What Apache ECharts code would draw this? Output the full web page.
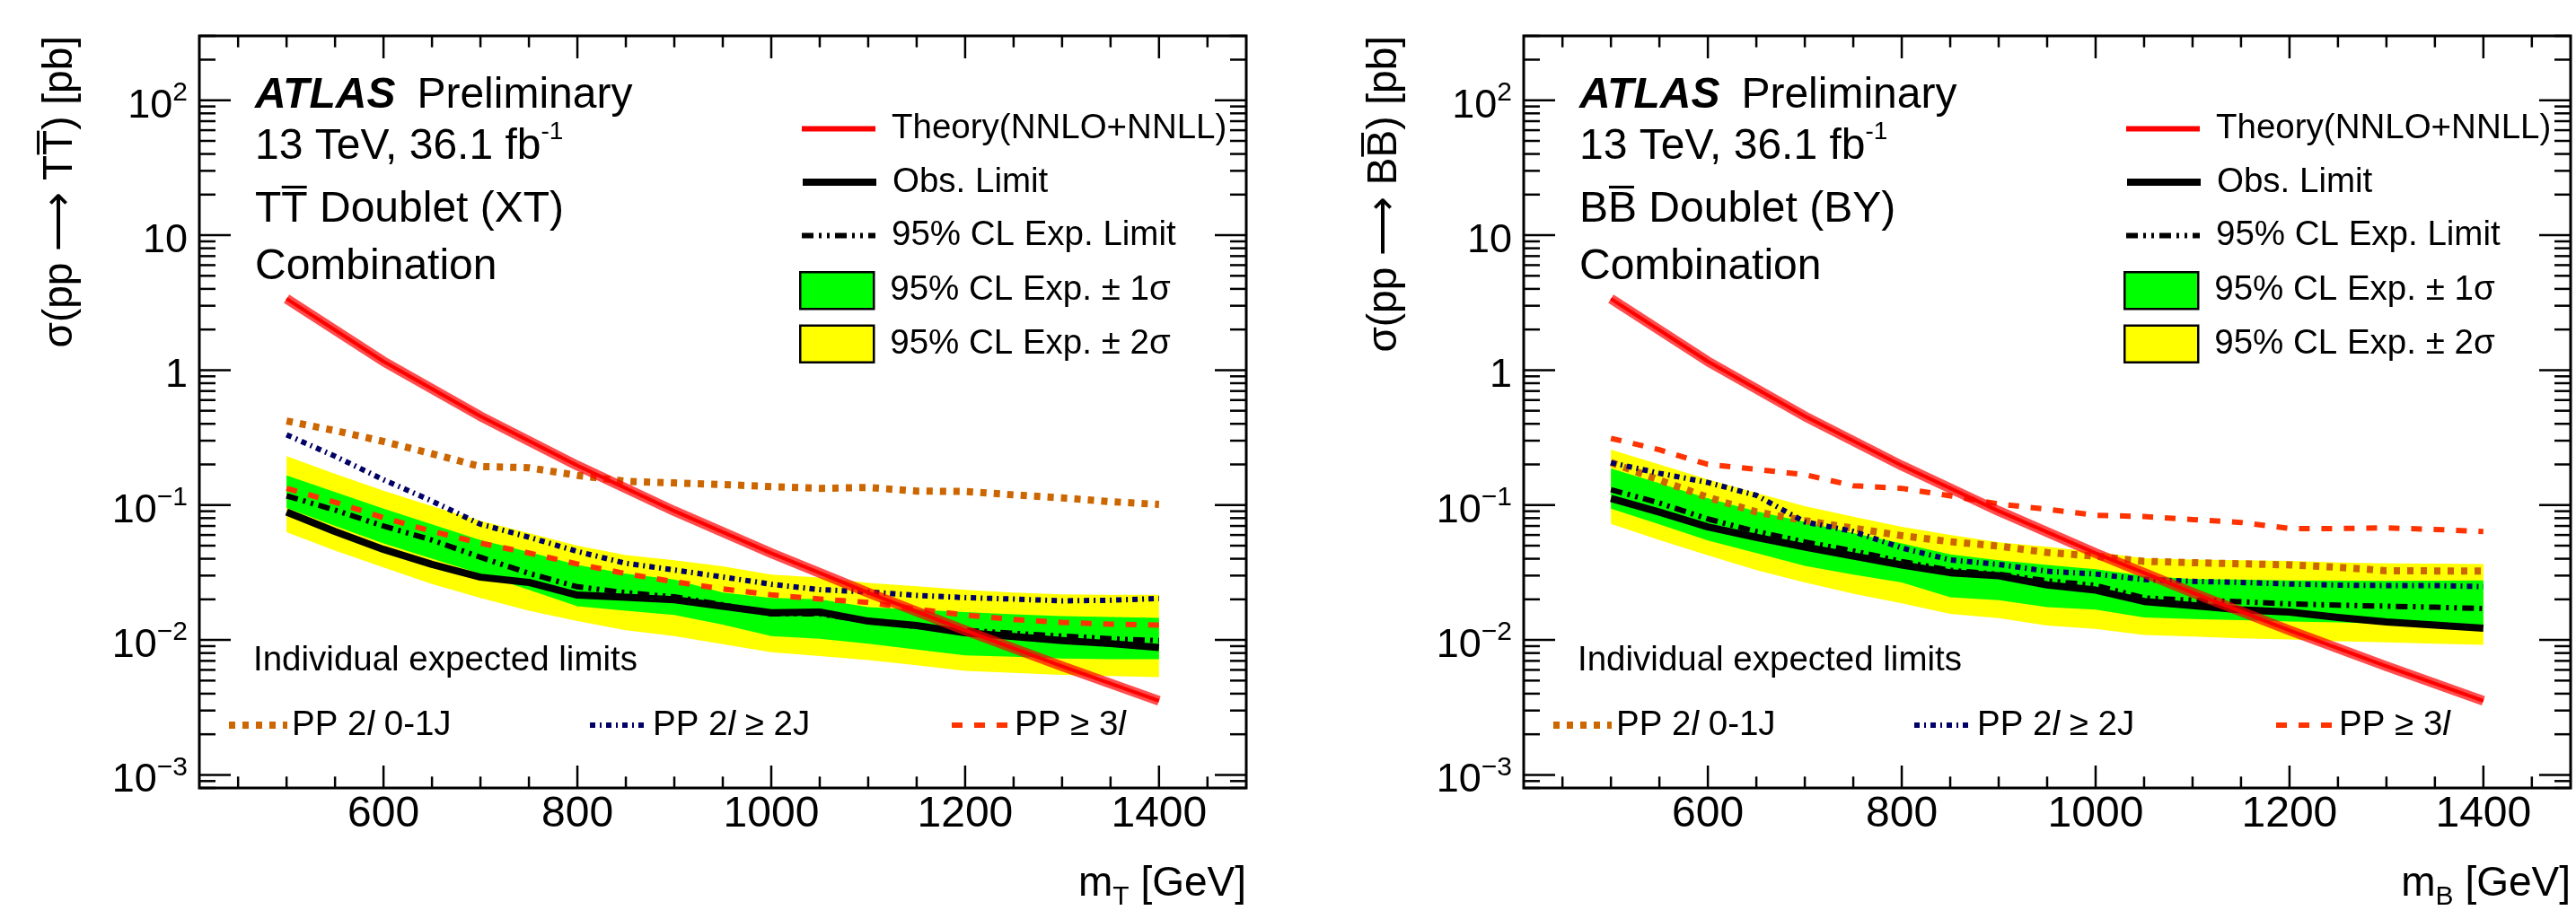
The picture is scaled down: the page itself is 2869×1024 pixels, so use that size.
<!DOCTYPE html>
<html>
<head>
<meta charset="utf-8">
<script src="https://cdn.jsdelivr.net/npm/echarts@6.0.0/dist/echarts.min.js"></script>
<style>
html,body{margin:0;padding:0;background:#ffffff;}
#chart{width:2869px;height:1024px;}
</style>
</head>
<body>
<div id="chart"></div>
<script>
// ---------------- data ----------------
const massPoints = [500,550,600,650,700,750,800,850,900,950,1000,1050,1100,1150,1200,1250,1300,1350,1400];
const theoryMass = [500,600,700,800,900,1000,1100,1200,1300,1400];
const theoryXsec = [3.38,1.16,0.455,0.196,0.0903,0.0440,0.0224,0.0118,0.00639,0.00354];

// T doublet (XT)
const tObs     = [0.0889,0.0637,0.0469,0.0363,0.0292,0.0267,0.0215,0.0207,0.0199,0.0178,0.0159,0.0161,0.0138,0.0128,0.0113,0.0106,0.0099,0.0094,0.0088];
const tExp     = [0.117,0.0917,0.0699,0.055,0.041,0.0312,0.0248,0.0224,0.0209,0.0182,0.0156,0.0156,0.0138,0.0126,0.0118,0.0112,0.0107,0.0102,0.0099];
const tPlus1   = [0.166,0.125,0.094,0.072,0.055,0.045,0.036,0.031,0.028,0.0225,0.0205,0.02,0.0175,0.0168,0.0161,0.0155,0.015,0.0148,0.0146];
const tMinus1  = [0.095,0.07,0.052,0.04,0.031,0.0235,0.0178,0.0165,0.0153,0.013,0.0107,0.0102,0.0094,0.0085,0.0077,0.0075,0.0073,0.0072,0.0072];
const tPlus2   = [0.23,0.17,0.128,0.098,0.0766,0.062,0.05,0.0426,0.039,0.0352,0.0305,0.029,0.0265,0.025,0.0235,0.0225,0.0218,0.0216,0.0216];
const tMinus2  = [0.063,0.046,0.0345,0.026,0.0205,0.0165,0.0138,0.0118,0.0107,0.0093,0.0081,0.0076,0.0071,0.0065,0.0059,0.0057,0.0055,0.0054,0.0053];
const tPP2l01J = [0.42,0.356,0.296,0.24,0.193,0.189,0.166,0.15,0.146,0.142,0.137,0.133,0.135,0.127,0.126,0.119,0.113,0.106,0.101];
const tPP2l2J  = [0.332,0.23,0.154,0.107,0.0721,0.0578,0.0453,0.037,0.033,0.0293,0.0259,0.0236,0.0227,0.0214,0.0206,0.0201,0.0195,0.0197,0.0203];
const tPP3l    = [0.133,0.105,0.0806,0.064,0.0522,0.0441,0.0366,0.031,0.027,0.0239,0.0216,0.0201,0.019,0.0169,0.0153,0.0142,0.0135,0.0131,0.0129];

// B doublet (BY)
const bObs     = [0.112,0.0887,0.0688,0.0576,0.0489,0.0419,0.036,0.0315,0.0299,0.0256,0.0234,0.0193,0.018,0.0167,0.0161,0.0147,0.0136,0.0129,0.0122];
const bExp     = [0.130,0.1035,0.0789,0.0637,0.0533,0.0457,0.0382,0.0328,0.0307,0.0274,0.0254,0.0205,0.0197,0.0192,0.0185,0.0181,0.0178,0.0175,0.0171];
const bPlus1   = [0.187,0.145,0.112,0.09,0.075,0.062,0.052,0.043,0.039,0.036,0.0335,0.0298,0.0283,0.028,0.0276,0.0275,0.0274,0.0275,0.0276];
const bMinus1  = [0.094,0.072,0.0547,0.044,0.0354,0.0305,0.0267,0.0207,0.0197,0.0175,0.0168,0.0147,0.0143,0.014,0.0137,0.0135,0.0132,0.013,0.0129];
const bPlus2   = [0.257,0.2,0.155,0.123,0.098,0.082,0.069,0.06,0.053,0.049,0.0448,0.0404,0.0395,0.039,0.0385,0.0375,0.037,0.0368,0.0366];
const bMinus2  = [0.0725,0.055,0.0424,0.033,0.0267,0.022,0.0187,0.0156,0.0145,0.0128,0.0121,0.0109,0.0106,0.0103,0.0101,0.0098,0.0096,0.0094,0.0092];
const bPP2l01J = [0.207,0.153,0.114,0.089,0.0766,0.0674,0.0593,0.0535,0.0496,0.0445,0.0418,0.0383,0.0374,0.0367,0.036,0.0346,0.0326,0.0325,0.0325];
const bPP2l2J  = [0.206,0.172,0.147,0.118,0.075,0.0637,0.0481,0.0392,0.0363,0.0323,0.0308,0.028,0.0272,0.0267,0.026,0.0255,0.0253,0.0253,0.0249];
const bPP3l    = [0.312,0.257,0.2,0.184,0.168,0.139,0.133,0.117,0.102,0.093,0.084,0.0822,0.0781,0.0743,0.067,0.067,0.0677,0.066,0.0637];

// ticks / labels
const xTickLabels = [600,800,1000,1200,1400];
const xMinorStep = 50;
const yTickValues = [1e-3,1e-2,1e-1,1,10,100];
const yTickLabels = ['{b|10}{s|\u22123}','{b|10}{s|\u22122}','{b|10}{s|\u22121}','{b|1}','{b|10}','{b|10}{s|2}'];

// names
const NAME_TH = 'Theory(NNLO+NNLL)';
const NAME_OBS = 'Obs. Limit';
const NAME_EXP = '95% CL Exp. Limit';
const NAME_1S = '95% CL Exp. \u00b1 1\u03c3';
const NAME_2S = '95% CL Exp. \u00b1 2\u03c3';
const NAME_A = 'PP 2l 0-1J';
const NAME_B = 'PP 2l \u2265 2J';
const NAME_C = 'PP \u2265 3l';
const richNames = {};
richNames[NAME_A] = 'PP 2{i|l} 0-1J';
richNames[NAME_B] = 'PP 2{i|l} \u2265 2J';
richNames[NAME_C] = 'PP \u2265 3{i|l}';

// ---------------- style ----------------
const FONT = '"Liberation Sans", Arial, Helvetica, sans-serif';
const GRID_LEFTS = [222, 1697];
const GRID_TOP = 40, GRID_W = 1166, GRID_H = 838;
const X_MIN = 410, X_MAX = 1490, Y_MIN = 8e-4, Y_MAX = 300;
const LEG_FS = 38.5;

const COL = {
  theory: '#ff0000', obs: '#000000', exp: '#000000',
  green: '#00ff00', yellow: '#ffff00',
  orange: '#cc6600', navy: '#000066', red3l: '#ff3300'
};
const DASH = {
  exp: [13, 6, 3, 6, 3, 6],
  orange: [7, 8],
  navy: [6, 5, 2, 5],
  red3l: [12, 13]
};

const panels = [
  {obs:tObs, exp:tExp, p1:tPlus1, m1:tMinus1, p2:tPlus2, m2:tMinus2, a:tPP2l01J, b:tPP2l2J, c:tPP3l,
   q:'T', doublet:'TT\u0305 Doublet (XT)', ytitle:'\u03c3(pp \u27F6 TT\u0305) [pb]'},
  {obs:bObs, exp:bExp, p1:bPlus1, m1:bMinus1, p2:bPlus2, m2:bMinus2, a:bPP2l01J, b:bPP2l2J, c:bPP3l,
   q:'B', doublet:'BB\u0305 Doublet (BY)', ytitle:'\u03c3(pp \u27F6 BB\u0305) [pb]'}
];

function pairs(xs, ys) { return xs.map((x, k) => [x, ys[k]]); }

function lineSeries(name, gi, xs, ys, color, width, type, z) {
  return {
    type: 'line', name: name, xAxisIndex: gi, yAxisIndex: gi,
    data: pairs(xs, ys), symbol: 'none', showSymbol: false, z: z,
    lineStyle: {color: color, width: width, type: type, cap: 'butt', join: 'round'},
    itemStyle: {color: color}, silent: true, animation: false
  };
}

function bandSeries(name, gi, upper, lower, color, z) {
  return {
    type: 'custom', name: name, xAxisIndex: gi, yAxisIndex: gi, z: z,
    data: [[massPoints[0], lower[0]]], itemStyle: {color: color}, silent: true, animation: false,
    renderItem: function (params, api) {
      const pts = [];
      for (let k = 0; k < massPoints.length; k++) pts.push(api.coord([massPoints[k], upper[k]]));
      for (let k = massPoints.length - 1; k >= 0; k--) pts.push(api.coord([massPoints[k], lower[k]]));
      return {type: 'polygon', shape: {points: pts}, style: {fill: color, stroke: null}};
    }
  };
}

function tickSeries(gi) {
  return {
    type: 'custom', xAxisIndex: gi, yAxisIndex: gi, z: 20, silent: true, animation: false, clip: false,
    data: [[1000, 1]],
    renderItem: function (params, api) {
      const cs = params.coordSys;
      const L = cs.x, R = cs.x + cs.width, T = cs.y, B = cs.y + cs.height;
      const ch = [];
      const ln = (x1, y1, x2, y2) => ch.push({type: 'line', shape: {x1: x1, y1: y1, x2: x2, y2: y2}, style: {stroke: '#000', lineWidth: 2.5}});
      for (let v = X_MIN; v <= X_MAX; v += 10) {
        if (v % xMinorStep !== 0) continue;
        const x = api.coord([v, 1])[0];
        const len = xTickLabels.indexOf(v) >= 0 ? 25 : 12.7;
        ln(x, B, x, B - len); ln(x, T, x, T + len);
      }
      for (let e = -4; e <= 2; e++) {
        for (let j = 1; j <= 9; j++) {
          const v = j * Math.pow(10, e);
          if (v < Y_MIN || v > Y_MAX) continue;
          const y = api.coord([1000, v])[1];
          const len = j === 1 ? 35 : 18;
          ln(L, y, L + len, y); ln(R, y, R - len, y);
        }
      }
      return {type: 'group', children: ch};
    }
  };
}

const grids = [], xAxes = [], yAxes = [], series = [], legends = [], graphics = [];

panels.forEach((p, gi) => {
  const off = GRID_LEFTS[gi];
  grids.push({left: off, top: GRID_TOP, width: GRID_W, height: GRID_H, show: true,
    borderColor: '#000', borderWidth: 3, backgroundColor: 'rgba(0,0,0,0)', containLabel: false, outerBoundsMode: 'none'});
  xAxes.push({type: 'value', gridIndex: gi, min: X_MIN, max: X_MAX,
    axisLine: {show: false}, axisTick: {show: false}, splitLine: {show: false}, minorTick: {show: false},
    axisLabel: {customValues: xTickLabels, formatter: v => String(v), fontSize: 48, lineHeight: 48,
      fontFamily: FONT, color: '#000', margin: 6}});
  yAxes.push({type: 'log', logBase: 10, gridIndex: gi, min: Y_MIN, max: Y_MAX,
    axisLine: {show: false}, axisTick: {show: false}, splitLine: {show: false}, minorTick: {show: false},
    axisLabel: {margin: 13, color: '#000', fontFamily: FONT, showMinLabel: true, showMaxLabel: true,
      formatter: function (v) {
        const lv = Math.log10(v);
        const k = yTickValues.findIndex(t => Math.abs(Math.log10(t) - lv) < 1e-6);
        return k < 0 ? '' : yTickLabels[k];
      },
      rich: {
        b: {fontSize: 45, lineHeight: 46, padding: [13, 0, 0, 0], fontFamily: FONT, color: '#000'},
        s: {fontSize: 30, lineHeight: 40, verticalAlign: 'top', fontFamily: FONT, color: '#000'}
      }}});

  series.push(bandSeries(NAME_2S, gi, p.p2, p.m2, COL.yellow, 1));
  series.push(bandSeries(NAME_1S, gi, p.p1, p.m1, COL.green, 2));
  series.push(lineSeries(NAME_A, gi, massPoints, p.a, COL.orange, 8, DASH.orange, 3));
  series.push(lineSeries(NAME_B, gi, massPoints, p.b, COL.navy, 6, DASH.navy, 3));
  series.push(lineSeries(NAME_C, gi, massPoints, p.c, COL.red3l, 6, DASH.red3l, 3));
  series.push(lineSeries(NAME_EXP, gi, massPoints, p.exp, COL.exp, 6, DASH.exp, 4));
  series.push(lineSeries(NAME_OBS, gi, massPoints, p.obs, COL.obs, 8, 'solid', 5));
  series.push(lineSeries('', gi, theoryMass, theoryXsec, 'rgba(255,0,0,0.7)', 11, 'solid', 6));
  series.push(lineSeries(NAME_TH, gi, theoryMass, theoryXsec, COL.theory, 4, 'solid', 7));
  series.push(tickSeries(gi));

  const topItems = [
    {name: NAME_TH, line: 6},
    {name: NAME_OBS, line: 8},
    {name: NAME_EXP, line: 6},
    {name: NAME_1S, box: COL.green},
    {name: NAME_2S, box: COL.yellow}
  ];
  topItems.forEach((it, k) => {
    const d = it.box
      ? {name: it.name, icon: 'rect', itemStyle: {color: it.box, borderColor: '#000', borderWidth: 2.5}}
      : {name: it.name, itemStyle: {opacity: 0}};
    legends.push({
      show: true, left: off + 668, top: 144 + k * 59.5 - 20.5, orient: 'vertical', padding: 0,
      itemWidth: 82, itemHeight: 41, selectedMode: false, data: [d],
      lineStyle: {width: it.line || 2},
      formatter: n => '{t|' + n + '}',
      textStyle: {fontSize: LEG_FS, lineHeight: 40, fontFamily: FONT, color: '#000',
        rich: {t: {fontSize: LEG_FS, lineHeight: 40, fontFamily: FONT, color: '#000', padding: [0, 0, 0, 13]}}}
    });
  });
  const botItems = [
    {name: NAME_A, dx: 29, w: 8},
    {name: NAME_B, dx: 432, w: 6},
    {name: NAME_C, dx: 835, w: 6}
  ];
  botItems.forEach(it => {
    legends.push({
      show: true, left: off + it.dx, top: 808 - 20, orient: 'horizontal', padding: 0,
      itemWidth: 65, itemHeight: 40, selectedMode: false,
      data: [{name: it.name, itemStyle: {opacity: 0}}],
      lineStyle: {width: it.w},
      formatter: n => '{t|' + richNames[n].replace(/\{i\|l\}/g, '}{i|l}{t|') + '}',
      textStyle: {fontSize: LEG_FS, lineHeight: 40, fontFamily: FONT, color: '#000',
        rich: {
          t: {fontSize: LEG_FS, lineHeight: 40, fontFamily: FONT, color: '#000'},
          i: {fontSize: LEG_FS, lineHeight: 40, fontFamily: FONT, fontStyle: 'italic', color: '#000'}
        }}
    });
  });

  const tx = off + 62;
  graphics.push({type: 'text', x: tx, y: 107, z: 30, silent: true,
    style: {text: '{a|ATLAS}{b|Preliminary}', verticalAlign: 'middle', align: 'left', fill: '#000',
      rich: {a: {fontSize: 48, fontWeight: 'bold', fontStyle: 'italic', fontFamily: FONT, color: '#000'},
             b: {fontSize: 48, fontFamily: FONT, padding: [0, 0, 0, 24], color: '#000'}}}});
  graphics.push({type: 'text', x: tx, y: 133, z: 30, silent: true,
    style: {text: '{b|13 TeV, 36.1 fb}{s|-1}', verticalAlign: 'top', align: 'left',
      rich: {b: {fontSize: 48, lineHeight: 48, padding: [14, 0, 0, 0], fontFamily: FONT, color: '#000'},
             s: {fontSize: 28, lineHeight: 40, verticalAlign: 'top', fontFamily: FONT, color: '#000'}}}});
  graphics.push({type: 'text', x: tx, y: 233.5, z: 30, silent: true,
    style: {text: p.doublet, fontSize: 48, fontFamily: FONT, fill: '#000', verticalAlign: 'middle', align: 'left'}});
  graphics.push({type: 'text', x: tx, y: 298, z: 30, silent: true,
    style: {text: 'Combination', fontSize: 48, fontFamily: FONT, fill: '#000', verticalAlign: 'middle', align: 'left'}});
  graphics.push({type: 'text', x: off + 60, y: 736, z: 30, silent: true,
    style: {text: 'Individual expected limits', fontSize: LEG_FS, fontFamily: FONT, fill: '#000', verticalAlign: 'middle', align: 'left'}});
  graphics.push({type: 'text', x: off - 155, y: GRID_TOP, rotation: Math.PI / 2, z: 30, silent: true,
    style: {text: p.ytitle, fontSize: 46, fontFamily: FONT, fill: '#000', verticalAlign: 'middle', align: 'right'}});
  graphics.push({type: 'text', x: off + GRID_W, y: 969, z: 30, silent: true,
    style: {text: '{b|m}{s|' + p.q + '}{b| [GeV]}', verticalAlign: 'top', align: 'right',
      rich: {b: {fontSize: 46, lineHeight: 46, padding: [0, 0, 14, 0], fontFamily: FONT, color: '#000'},
             s: {fontSize: 30, lineHeight: 30, verticalAlign: 'bottom', fontFamily: FONT, color: '#000'}}}});
});

const chart = echarts.init(document.getElementById('chart'), null, {renderer: 'canvas', width: 2869, height: 1024});
chart.setOption({
  animation: false,
  backgroundColor: '#ffffff',
  grid: grids, xAxis: xAxes, yAxis: yAxes, series: series, legend: legends, graphic: graphics
});
</script>
</body>
</html>
